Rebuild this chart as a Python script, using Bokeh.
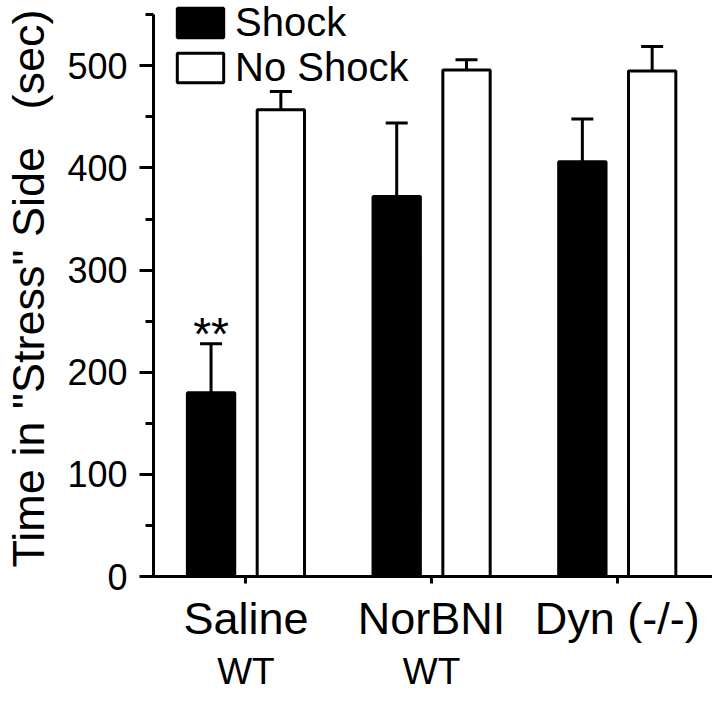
from bokeh.plotting import figure
from bokeh.models import (Range1d, FixedTicker, SingleIntervalTicker, Whisker, TeeHead,
                          ColumnDataSource, Legend, LegendItem, LinearAxis)
from bokeh.transform import dodge
from bokeh.core.properties import value
from bokeh.embed import file_html
from bokeh.resources import INLINE

# ---- data ----
groups = ["Saline", "NorBNI", "Dyn (-/-)"]
genotypes = ["WT", "WT", ""]
group_pos = [1, 2, 3]
shock_mean = [180, 372, 406]
shock_sem = [48, 72, 42]
noshock_mean = [457, 496, 495]
noshock_sem = [18, 10, 24]
sig_marks = ["**", "", ""]
series_names = ["Shock", "No Shock"]

FONT = "Liberation Sans"
OFF = 0.188
BW = 0.255

src = ColumnDataSource(dict(
    x=group_pos,
    shock=shock_mean,
    shock_up=[m + s for m, s in zip(shock_mean, shock_sem)],
    noshock=noshock_mean,
    noshock_up=[m + s for m, s in zip(noshock_mean, noshock_sem)],
    sig=sig_marks,
))

p = figure(width=712, height=694, output_backend="svg", toolbar_location=None,
           x_range=Range1d(0.502, 3.513), y_range=Range1d(0, 564),
           min_border_left=149, min_border_right=0, min_border_top=0,
           min_border_bottom=0)
p.outline_line_color = None
p.grid.visible = False

r_shock = p.vbar(x=dodge("x", -OFF), top="shock", width=BW, bottom=0, source=src,
                 fill_color="black", line_color="black", line_width=3)
r_no = p.vbar(x=dodge("x", OFF), top="noshock", width=BW, bottom=0, source=src,
              fill_color="white", line_color="black", line_width=3)

for base_off, lo, up in [(-OFF, "shock", "shock_up"), (OFF, "noshock", "noshock_up")]:
    w = Whisker(source=src, base=dodge("x", base_off), lower=lo, upper=up,
                dimension="height", line_width=3, line_color="black",
                lower_head=None,
                upper_head=TeeHead(size=22, line_width=3, line_color="black"))
    p.add_layout(w)

p.text(x=dodge("x", -OFF), y="shock_up", text="sig", source=src,
       text_align="center", text_baseline="alphabetic", y_offset=-10,
       text_font=value(FONT), text_font_size="46px", text_color="black")

# y axis
ya = p.yaxis[0]
ya.bounds = (0, 550)
ya.ticker = SingleIntervalTicker(interval=100, num_minor_ticks=2)
ya.axis_line_width = 3
ya.major_tick_line_width = 3
ya.minor_tick_line_width = 3
ya.major_tick_out = 14
ya.major_tick_in = 0
ya.minor_tick_out = 8
ya.minor_tick_in = 0
ya.major_label_standoff = 12
ya.major_label_text_font = FONT
ya.major_label_text_font_size = "36px"
ya.major_label_text_color = "black"
ya.axis_label = "Time in \"Stress\" Side\u00a0\u00a0\u00a0(sec)"
ya.axis_label_text_font = FONT
ya.axis_label_text_font_size = "45px"
ya.axis_label_text_font_style = "normal"
ya.axis_label_text_color = "black"
ya.axis_label_standoff = 10

# x axis (group names)
xa = p.xaxis[0]
xa.ticker = FixedTicker(ticks=group_pos)
xa.major_label_overrides = {k: v for k, v in zip(group_pos, groups)}
xa.axis_line_width = 3
xa.major_tick_line_width = 3
xa.major_tick_out = 7
xa.major_tick_in = 0
xa.minor_tick_out = 0
xa.minor_tick_in = 0
xa.major_label_standoff = 9
xa.major_label_text_font = FONT
xa.major_label_text_font_size = "45px"
xa.major_label_text_color = "black"

# second row of x labels (genotype)
xa2 = LinearAxis(ticker=FixedTicker(ticks=group_pos),
                 major_label_overrides={k: v for k, v in zip(group_pos, genotypes)},
                 axis_line_color=None, major_tick_line_color=None,
                 minor_tick_line_color=None, major_tick_out=0, major_tick_in=0,
                 minor_tick_out=0, minor_tick_in=0, major_label_standoff=4,
                 major_label_text_font=FONT, major_label_text_font_size="37px",
                 major_label_text_color="black")
p.add_layout(xa2, "below")

legend = Legend(items=[LegendItem(label=series_names[0], renderers=[r_shock]),
                       LegendItem(label=series_names[1], renderers=[r_no])],
                location=(18, 486), glyph_width=58, glyph_height=37,
                label_text_font=FONT, label_text_font_size="40px",
                label_text_color="black",
                label_standoff=6, spacing=0, padding=0, margin=0,
                border_line_color=None, background_fill_alpha=0)
p.add_layout(legend)

open("out.html", "w").write(file_html(p, INLINE))
